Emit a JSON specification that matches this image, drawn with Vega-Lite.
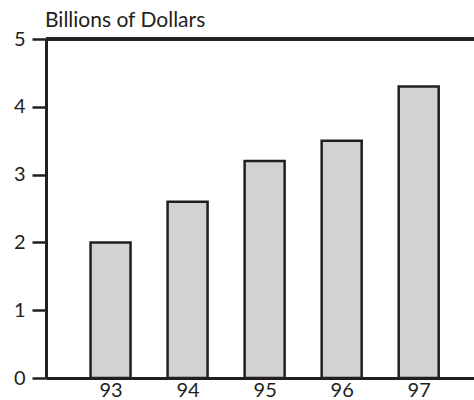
{
  "$schema": "https://vega.github.io/schema/vega-lite/v6.json",
  "width": 428,
  "height": 339,
  "autosize": {"type": "none"},
  "padding": {"left": 46, "top": 39, "right": 0, "bottom": 22},
  "background": "white",
  "config": {
    "view": {"stroke": null},
    "font": "Lato",
    "title": {"font": "Lato", "fontSize": 21, "fontWeight": "normal", "color": "#231f20"}
  },
  "title": {"text": "Billions of Dollars", "anchor": "start", "frame": "group", "offset": -2, "dx": -1},
  "data": {"values": [
    {"year": 93, "value": 2.0},
    {"year": 94, "value": 2.6},
    {"year": 95, "value": 3.2},
    {"year": 96, "value": 3.5},
    {"year": 97, "value": 4.3}
  ]},
  "layer": [
    {
      "mark": {"type": "bar", "width": 40, "fill": "#d1d2d4", "stroke": "#231f20", "strokeWidth": 2.5},
      "encoding": {
        "x": {"field": "year", "type": "quantitative",
          "scale": {"domain": [92.227, 97.653], "nice": false, "zero": false},
          "axis": {"title": null, "values": [93, 94, 95, 96, 97], "format": "d", "ticks": false, "grid": false,
            "domainColor": "#231f20", "domainWidth": 3, "labelFont": "Lato", "labelFontSize": 20,
            "labelColor": "#231f20", "labelPadding": 2}},
        "y": {"field": "value", "type": "quantitative",
          "scale": {"domain": [0, 5], "nice": false},
          "axis": {"title": null, "values": [0, 1, 2, 3, 4, 5], "format": "d", "grid": false, "tickSize": 14, "tickWidth": 2.5,
            "tickColor": "#231f20", "domainColor": "#231f20", "domainWidth": 3, "labelFont": "Lato",
            "labelFontSize": 20, "labelColor": "#231f20", "labelPadding": 7}}
      }
    },
    {
      "mark": {"type": "rule", "color": "#231f20", "strokeWidth": 3},
      "encoding": {"y": {"datum": 5}}
    }
  ]
}
